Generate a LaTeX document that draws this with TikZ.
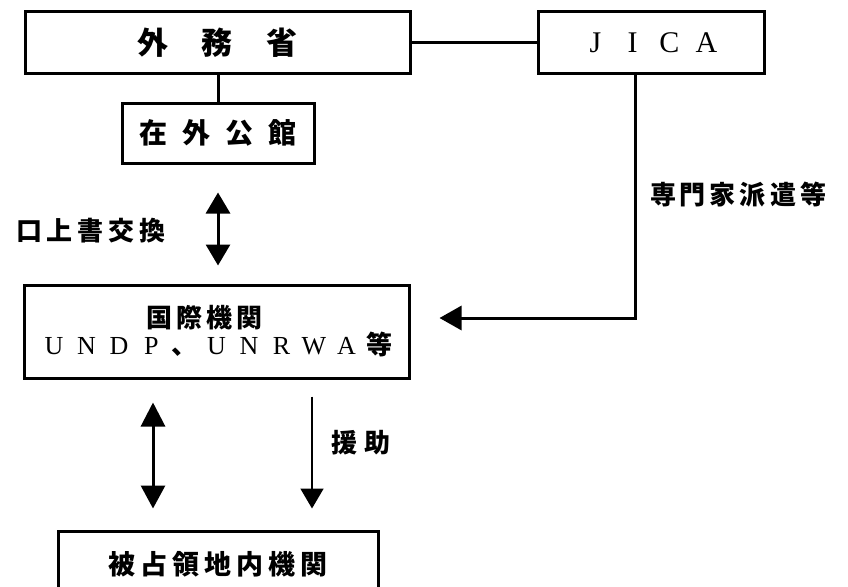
\documentclass[tikz,border=0pt]{standalone}
\usepackage{fontspec}
\setmainfont{Liberation Serif}
\newfontfamily\jp{Noto Sans CJK JP}
\usetikzlibrary{arrows.meta,calc}
\makeatletter
\def\pitch#1#2{\def\pitch@w{#1}\pitch@a#2\relax}
\def\pitch@a#1{\ifx#1\relax\else\makebox[\pitch@w][c]{#1}\expandafter\pitch@a\fi}
\makeatother
\tikzset{
  box/.style={draw, line width=3pt, inner sep=0pt},
  link/.style={line width=3pt},
  thin link/.style={line width=1.8pt},
  jpfont/.style={font=\jp\bfseries\fontsize{#1}{27pt}\selectfont},
  lab/.style={inner sep=0pt, jpfont=26pt},
}
\begin{document}
\begin{tikzpicture}[x=1pt,y=-1pt]
\useasboundingbox (0,0) rectangle (848,586);
\clip (0,0) rectangle (848,586);
% boxes
\node[box, minimum width=385pt, minimum height=61pt, jpfont=31pt] (gaimu) at (217.5,42.5) {\pitch{65pt}{外務省}};
\node[box, minimum width=226pt, minimum height=61pt, font=\rmfamily\fontsize{30pt}{30pt}\selectfont] (jica) at (651,42.5) {\pitch{37pt}{JICA}};
\node[box, minimum width=192pt, minimum height=60pt, jpfont=28pt] (zaigai) at (218,133) {\pitch{43pt}{在外公館}};
\node[box, minimum width=385pt, minimum height=93pt, align=center, font=\fontsize{26pt}{27pt}\selectfont] (kokusai) at (216.5,331.5)
  {{\jp\bfseries\pitch{30pt}{国際機関}}\hspace*{24pt}\\
   \pitch{32.5pt}{UNDP{\jp\bfseries 、}UNRWA{\jp\bfseries 等}}};
\node[box, minimum width=320pt, minimum height=66pt, jpfont=27pt] (hisen) at (218,564) {\pitch{32pt}{被占領地内機関}};
% labels
\node[lab] (lkojo) at (91,231) {\pitch{31pt}{口上書交換}};
\node[lab] (lsenmon) at (738,195) {\pitch{30pt}{専門家派遣等}};
\node[lab] (lenjo) at (361,443) {\pitch{33pt}{援助}};
% connectors
\draw[link] (gaimu.east) -- (jica.west);
\draw[link] (zaigai.north |- gaimu.south) -- (zaigai.north);
\draw[link, {Triangle[length=21pt,width=24pt,sep=8pt]}-{Triangle[length=21pt,width=24pt]}, shorten <=20pt, shorten >=18pt]
  (zaigai.south) -- (zaigai.south |- kokusai.north);
\coordinate (jc) at (635,318);
\draw[link, -{Triangle[length=22pt,width=24pt,sep=8pt]}, shorten >=21pt]
  (jica.south -| jc) -- (jc) -- (kokusai.east |- jc);
\coordinate (bl) at (153,0);
\coordinate (br) at (312,0);
\draw[link, {Triangle[length=24pt,width=24pt,sep=6pt]}-{Triangle[length=23pt,width=24pt]}, shorten <=17pt, shorten >=21pt]
  (kokusai.south -| bl) -- (hisen.north -| bl);
\draw[thin link, -{Triangle[length=20pt,width=23pt]}, shorten <=17pt, shorten >=21pt]
  (kokusai.south -| br) -- (hisen.north -| br);
\end{tikzpicture}
\end{document}
